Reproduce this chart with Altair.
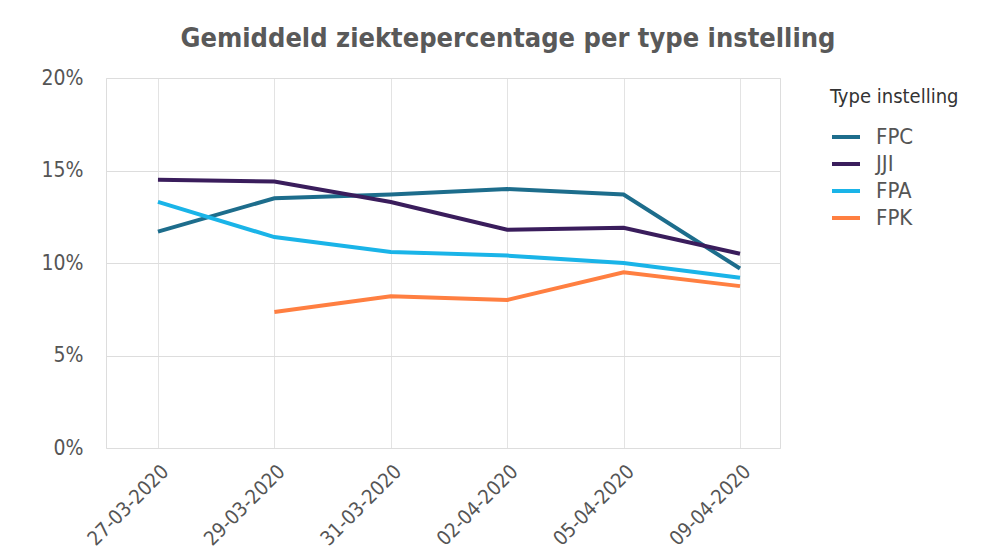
import altair as alt
import pandas as pd

dates = ["27-03-2020", "29-03-2020", "31-03-2020", "02-04-2020", "05-04-2020", "09-04-2020"]
series_names = ["FPC", "JJI", "FPA", "FPK"]
fpc = [11.7, 13.5, 13.7, 14.0, 13.7, 9.7]
jji = [14.5, 14.4, 13.3, 11.8, 11.9, 10.5]
fpa = [13.3, 11.4, 10.6, 10.4, 10.0, 9.2]
fpk = [None, 7.35, 8.2, 8.0, 9.5, 8.75]
colors = ["#1d6d8c", "#3a1d5c", "#1ab4e8", "#ff7f41"]

FONT = "DejaVu Sans Condensed, DejaVu Sans"

rows = []
for name, vals in zip(series_names, [fpc, jji, fpa, fpk]):
    for d, v in zip(dates, vals):
        if v is not None:
            rows.append({"datum": d, "type": name, "pct": v / 100})
df = pd.DataFrame(rows)

chart = alt.Chart(df).mark_line(strokeWidth=4).encode(
    x=alt.X("datum:N", sort=dates, title=None,
            scale=alt.Scale(type="point", padding=0.395, align=0.565),
            axis=alt.Axis(labelAngle=-45, labelFontSize=20, labelColor="#555555",
                          labelFont=FONT, ticks=False, domain=False,
                          grid=True, gridColor="#e3e3e3", labelPadding=13)),
    y=alt.Y("pct:Q", title=None,
            scale=alt.Scale(domain=[0, 0.2]),
            axis=alt.Axis(format=".0%", values=[0, 0.05, 0.1, 0.15, 0.2],
                          labelFontSize=21, labelColor="#555555",
                          labelFont=FONT, ticks=False, domain=False,
                          gridColor="#dddddd", labelPadding=23)),
    color=alt.Color("type:N", sort=series_names,
                    scale=alt.Scale(domain=series_names, range=colors),
                    legend=alt.Legend(title="Type instelling", titleFontSize=20,
                                      titleFont=FONT, titleFontWeight="normal",
                                      titleColor="#333333", labelFontSize=22,
                                      labelFont=FONT, labelColor="#555555",
                                      symbolType="stroke", symbolStrokeWidth=4,
                                      symbolSize=784, rowPadding=0, labelOffset=14,
                                      orient="none", legendX=724, legendY=9,
                                      titlePadding=14)),
).properties(
    width=674, height=370,
    title=alt.TitleParams("Gemiddeld ziektepercentage per type instelling",
                          font=FONT, fontSize=27, fontWeight="bold",
                          color="#595959", anchor="middle", offset=14, dx=65),
    autosize=alt.AutoSizeParams(type="none"),
    padding={"left": 98, "top": 70, "right": 194, "bottom": 140},
).configure_view(stroke=None).configure(background="white")

chart.save("out.html", embed_options={"renderer": "svg", "actions": False})
